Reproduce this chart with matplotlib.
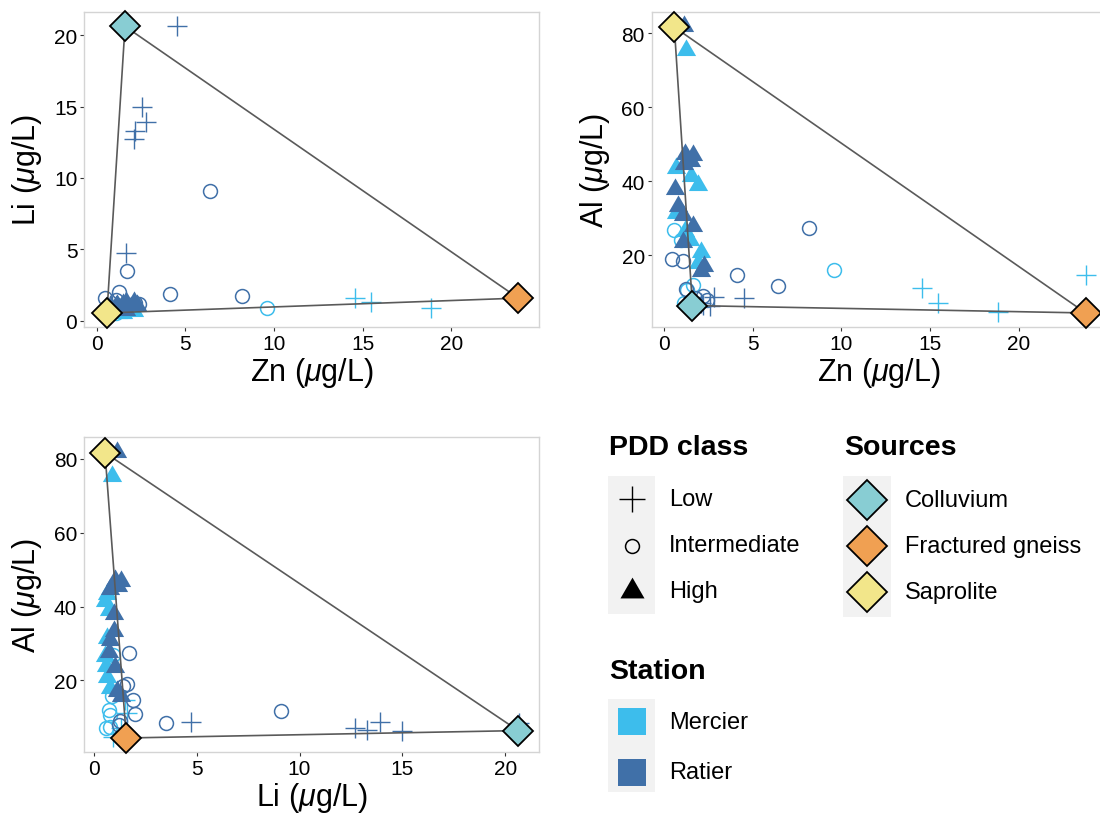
import matplotlib
matplotlib.use("Agg")
import matplotlib.pyplot as plt
from matplotlib.patches import Rectangle
import numpy as np

plt.rcParams["font.family"] = ["Liberation Sans", "DejaVu Sans"]
plt.rcParams["mathtext.fontset"] = "custom"
plt.rcParams["mathtext.rm"] = "Liberation Sans"
plt.rcParams["mathtext.it"] = "Liberation Sans:italic"

# --- samples (one entry per water sample) ---
pdd = (["Low"] * 10) + (["Intermediate"] * 16) + (["High"] * 21)
station = [
    "Ratier", "Ratier", "Ratier", "Ratier", "Ratier", "Ratier",
    "Mercier", "Mercier", "Mercier", "Mercier",
    "Ratier", "Ratier", "Ratier", "Ratier", "Mercier", "Ratier", "Ratier", "Ratier",
    "Mercier", "Mercier", "Ratier", "Mercier", "Mercier", "Mercier", "Mercier", "Ratier",
    "Mercier", "Mercier", "Mercier", "Mercier", "Mercier", "Mercier", "Mercier", "Mercier", "Mercier",
    "Ratier", "Ratier", "Ratier", "Ratier", "Ratier", "Ratier",
    "Ratier", "Ratier", "Ratier", "Ratier", "Ratier", "Ratier",
]
zn = [4.53, 2.57, 2.79, 2.19, 2.10, 1.63, 14.57, 15.45, 18.86, 23.8,
      6.40, 1.72, 4.14, 8.17, 9.60, 1.25, 0.47, 1.07, 0.56, 0.97, 2.19, 1.63, 1.30, 1.50, 1.10, 2.40,
      1.25, 0.69, 1.50, 1.91, 0.69, 1.20, 1.44, 2.10, 1.91,
      1.15, 1.16, 1.63, 1.10, 1.50, 0.60, 0.79, 1.07, 1.63, 1.07, 2.28, 2.10]
li = [20.65, 15.0, 13.9, 13.3, 12.7, 4.73, 1.59, 1.31, 0.91, 1.50,
      9.10, 3.50, 1.90, 1.70, 0.89, 2.00, 1.60, 1.42, 0.95, 0.75, 1.25, 0.74, 0.80, 0.80, 0.57, 1.20,
      0.89, 0.65, 0.55, 0.74, 0.65, 0.55, 0.57, 0.65, 0.80,
      1.13, 1.05, 1.30, 0.80, 1.15, 0.97, 0.97, 0.80, 0.72, 1.05, 1.13, 1.30]
al = [8.5, 6.3, 8.6, 6.5, 7.2, 8.8, 11.1, 7.2, 4.7, 14.7,
      11.7, 8.5, 14.6, 27.3, 15.9, 11.0, 19.0, 18.4, 26.8, 24.2, 9.1, 11.9, 10.6, 7.5, 7.0, 8.0,
      75.5, 43.5, 41.5, 39.0, 31.5, 26.5, 24.0, 21.0, 18.0,
      82.0, 47.3, 47.0, 44.8, 45.5, 37.9, 33.4, 31.0, 27.8, 23.7, 17.0, 15.7]

# --- end-member sources ---
sources = ["Colluvium", "Fractured gneiss", "Saprolite"]
src_zn = [1.60, 23.78, 0.58]
src_li = [20.63, 1.58, 0.54]
src_al = [6.4, 4.4, 81.7]

classes = ["Low", "Intermediate", "High"]
stations = ["Mercier", "Ratier"]

STATION_COLORS = {"Mercier": "#3DBDEC", "Ratier": "#4070A8"}
SOURCE_COLORS = {"Colluvium": "#88CDD3", "Fractured gneiss": "#F0A052", "Saprolite": "#F2E68A"}
TRI = [(0, 1), (-0.866, -0.5), (0.866, -0.5), (0, 1)]
MSIZE = {"Low": 14, "Intermediate": 10, "High": 16}

W, H = 1100, 820


def expand(vals):
    lo, hi = min(vals), max(vals)
    pad = 0.05 * (hi - lo)
    return lo - pad, hi + pad


def draw_panel(ax, xs, ys, sx, sy, xlabel, ylabel, xticks, yticks):
    for st in stations:
        for cl in classes:
            idx = [i for i in range(len(pdd)) if pdd[i] == cl and station[i] == st]
            if not idx:
                continue
            px = [xs[i] for i in idx]
            py = [ys[i] for i in idx]
            c = STATION_COLORS[st]
            if cl == "Intermediate":
                ax.plot(px, py, ls="none", marker="o", ms=MSIZE[cl], mfc="none",
                        mec=c, mew=1.1, zorder=2, clip_on=False)
            elif cl == "Low":
                ax.plot(px, py, ls="none", marker="+", ms=MSIZE[cl], mec=c,
                        mew=1.0, zorder=2, clip_on=False)
            else:
                ax.plot(px, py, ls="none", marker=TRI, ms=MSIZE[cl], mfc=c,
                        mec="none", zorder=2, clip_on=False)
    # mixing triangle between sources
    ax.plot(list(sx) + [sx[0]], list(sy) + [sy[0]], color="#5a5a5a", lw=1.2, zorder=3)
    for k, s in enumerate(sources):
        ax.plot(sx[k], sy[k], ls="none", marker="D", ms=15.3, mfc=SOURCE_COLORS[s],
                mec="black", mew=1.3, zorder=4, clip_on=False)

    ax.set_xlim(expand(list(xs) + list(sx)))
    ax.set_ylim(expand(list(ys) + list(sy)))
    ax.set_xticks(xticks)
    ax.set_yticks(yticks)
    ax.tick_params(direction="out", length=3, width=0.8, color="#333333",
                   labelsize=15, labelcolor="black", pad=2)
    for sp in ax.spines.values():
        sp.set_color("#d4d4d4")
        sp.set_linewidth(1.0)
    ax.set_xlabel(xlabel, fontsize=22, labelpad=1)
    ax.set_ylabel(ylabel, fontsize=22, labelpad=7)


fig = plt.figure(figsize=(W / 100, H / 100), dpi=100)


def add_ax(left, top, width, height):
    return fig.add_axes([left / W, 1 - (top + height) / H, width / W, height / H])


ax1 = add_ax(84.3, 12.7, 455, 315.6)
ax2 = add_ax(651.7, 12.7, 455, 315.6)
ax3 = add_ax(84.3, 438.3, 455, 315.0)

ulab = r"($\mu$g/L)"
draw_panel(ax1, zn, li, src_zn, src_li, "Zn " + ulab, "Li " + ulab, [0, 5, 10, 15, 20], [0, 5, 10, 15, 20])
draw_panel(ax2, zn, al, src_zn, src_al, "Zn " + ulab, "Al " + ulab, [0, 5, 10, 15, 20], [20, 40, 60, 80])
draw_panel(ax3, li, al, src_li, src_al, "Li " + ulab, "Al " + ulab, [0, 5, 10, 15, 20], [20, 40, 60, 80])

# --- legends, drawn in pixel coordinates ---
lg = fig.add_axes([0, 0, 1, 1])
lg.set_xlim(0, W)
lg.set_ylim(H, 0)
lg.axis("off")
lg.patch.set_visible(False)

KEY_BG = "#F2F2F2"
TITLE_FS = 20.5
ENTRY_FS = 17

# PDD class
lg.text(609, 448, "PDD class", fontsize=TITLE_FS, fontweight="bold", va="center", ha="left")
lg.add_patch(Rectangle((608, 477), 47, 138, fc=KEY_BG, ec="none"))
rows = [500, 546.5, 592]
for cl, y in zip(classes, rows):
    if cl == "Low":
        lg.plot(631.5, y, marker="+", ms=19.4, mec="black", mew=1.0)
    elif cl == "Intermediate":
        lg.plot(631.5, y, marker="o", ms=10, mfc="none", mec="black", mew=1.1)
    else:
        lg.plot(631.5, y, marker=TRI, ms=20, mfc="black", mec="none")
    lg.text(669, y, cl, fontsize=ENTRY_FS, va="center", ha="left")

# Sources
lg.text(844, 448, "Sources", fontsize=TITLE_FS, fontweight="bold", va="center", ha="left")
lg.add_patch(Rectangle((843, 477), 48, 141, fc=KEY_BG, ec="none"))
for s, y in zip(sources, [500.7, 547, 593]):
    lg.plot(867, y, marker="D", ms=20.5, mfc=SOURCE_COLORS[s], mec="black", mew=1.3)
    lg.text(905, y, s, fontsize=ENTRY_FS, va="center", ha="left")

# Station
lg.text(609, 672, "Station", fontsize=TITLE_FS, fontweight="bold", va="center", ha="left")
lg.add_patch(Rectangle((608, 700), 47, 93, fc=KEY_BG, ec="none"))
for st, y in zip(stations, [722.7, 773.3]):
    lg.add_patch(Rectangle((618.3, y - 13.7), 27.4, 27.4, fc=STATION_COLORS[st], ec="none"))
    lg.text(669, y, st, fontsize=ENTRY_FS, va="center", ha="left")

fig.savefig("out.png", dpi=100)
